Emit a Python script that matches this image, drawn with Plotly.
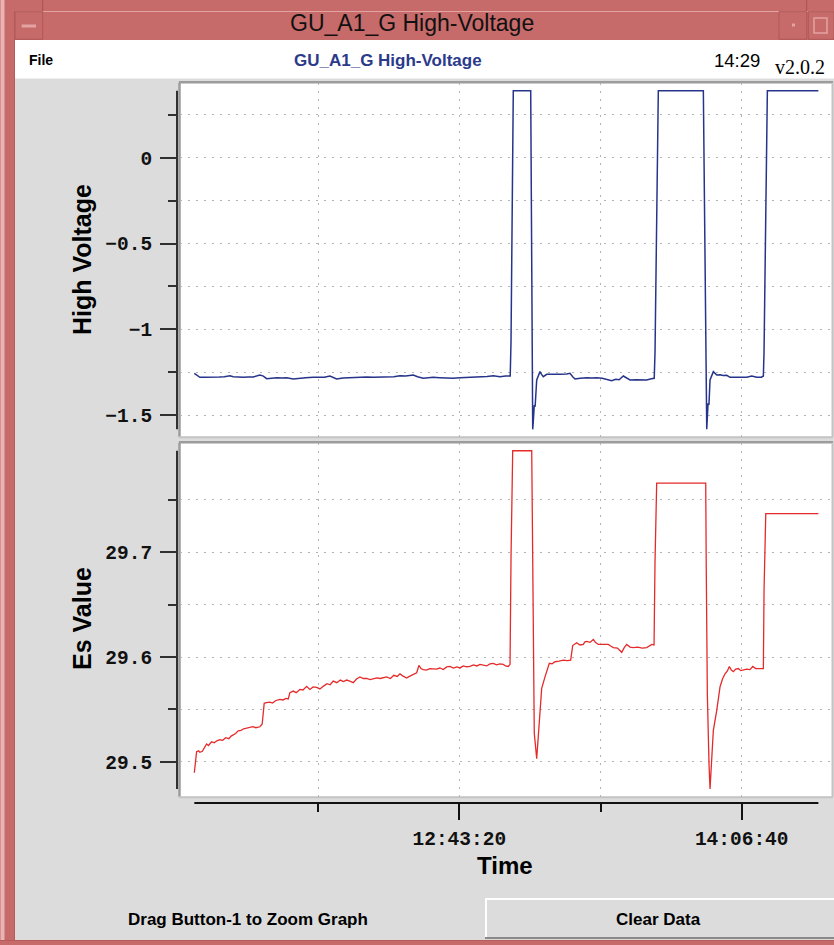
import pandas as pd
import plotly.graph_objects as go

# ---------------- data ----------------
BASE = "2000-01-01 11:25:00"   # minutes below are counted from this clock time

hv_minutes = [0.13, 0.6, 1.2, 1.77, 3.0, 4.5, 6.0, 7.5, 9.0, 10.63, 11.6, 13.0, 14.55, 16.0,
              17.5, 19.48, 20.5, 21.46, 23.0, 24.5, 26.0, 27.37, 29.31, 31.0, 33.0, 35.22,
              37.0, 38.5, 40.15, 41.2, 42.13, 44.0, 45.5, 47.03, 49.0, 50.98, 53.0, 55.0,
              57.0, 59.0, 60.81, 62.5, 64.74, 66.0, 67.69, 69.0, 70.64, 72.5, 74.5, 76.55,
              78.5, 80.5, 82.5, 84.5, 86.5, 88.35, 90.33, 92.0, 93.35,
              93.59, 93.97, 94.26, 99.40, 99.70, 99.99, 100.16, 100.46, 100.7, 101.17,
              101.64, 102.14, 102.6, 103.11, 104.12, 106.0, 108.04, 110.0, 111.0, 111.79,
              112.47, 114.0, 115.93, 117.5, 118.88, 120.5, 122.0, 123.31, 124.5, 125.5,
              126.73, 127.7, 128.71, 130.5, 132.0, 133.64, 135.0, 135.85,
              136.09, 136.59, 137.06, 150.35, 150.55, 151.06, 151.35, 151.74, 152.0,
              152.32, 153.30, 154.30, 155.28, 156.2, 157.25, 158.23, 160.0, 161.5, 163.16,
              164.64, 166.11, 167.5, 168.06, 168.26, 168.77, 169.24, 184.30]
hv_values = [-1.256, -1.262, -1.272, -1.2792, -1.278, -1.2792, -1.277, -1.2775, -1.2753,
             -1.2695, -1.2753, -1.278, -1.2792, -1.277, -1.2775, -1.2656, -1.272, -1.2869,
             -1.284, -1.2811, -1.283, -1.2811, -1.2889, -1.284, -1.282, -1.2792, -1.281,
             -1.279, -1.2714, -1.279, -1.2889, -1.283, -1.281, -1.2811, -1.279, -1.2772,
             -1.278, -1.2775, -1.277, -1.276, -1.2695, -1.272, -1.2656, -1.276, -1.285,
             -1.282, -1.2792, -1.281, -1.283, -1.285, -1.281, -1.2792, -1.278, -1.2775,
             -1.274, -1.2695, -1.2753, -1.272, -1.2714,
             -1.0675, -0.2366, 0.3904, 0.3904, -0.6055, -1.582, -1.537, -1.440, -1.45,
             -1.2947, -1.2656, -1.246, -1.262, -1.2753, -1.2617, -1.263, -1.2617, -1.260,
             -1.2559, -1.2753, -1.2889, -1.284, -1.281, -1.283, -1.281, -1.284, -1.290,
             -1.2986, -1.290, -1.293, -1.2714, -1.285, -1.2947, -1.293, -1.295, -1.2947,
             -1.288, -1.285,
             -1.1297, -0.3046, 0.3904, 0.3904, -0.0231, -1.0132, -1.582, -1.4305, -1.44,
             -1.2947, -1.246, -1.2656, -1.2636, -1.268, -1.2675, -1.2792, -1.28, -1.2792,
             -1.2792, -1.2714, -1.2792, -1.278, -1.2714, -1.1297, -0.3046, 0.3904, 0.3904]

es_minutes = [0.13, 0.45, 0.80, 1.4, 1.77, 2.5, 3.2, 3.75, 4.3, 5.23, 6.0, 6.8, 7.68, 8.5,
              9.4, 10.3, 11.0, 11.6, 12.3, 13.08, 13.9, 14.7, 15.56, 16.5, 17.4, 18.3,
              19.48, 20.16, 20.5, 20.75, 21.4, 22.44, 23.2, 24.2, 25.39, 26.3, 27.2, 27.84,
              28.34, 29.3, 30.2, 31.29, 32.2, 33.27, 34.2, 35.2, 36.22, 37.2, 38.17, 39.3,
              40.2, 41.12, 42.2, 43.2, 44.1, 45.08, 46.0, 47.03, 48.0, 49.0, 50.0, 51.0,
              52.0, 52.93, 54.0, 55.0, 56.0, 56.89, 58.0, 59.0, 60.0, 60.81, 61.6, 62.79,
              63.6, 64.6, 65.74, 66.42, 67.0, 67.69, 68.6, 69.6, 70.64, 71.6, 72.6, 73.6,
              74.6, 75.57, 76.6, 77.6, 78.52, 79.5, 80.5, 81.5, 82.5, 83.5, 84.43, 85.4,
              86.4, 87.4, 88.35, 89.3, 90.3, 91.31, 92.0, 92.78, 93.3,
              93.59, 94.09, 99.70, 99.85, 100.17, 100.46, 101.17,
              101.64, 102.14, 102.64, 103.62, 104.3, 104.89, 105.7, 106.57, 107.8, 109.02,
              110.2, 111.2, 111.79, 112.4, 112.97, 113.9, 114.92, 115.4, 115.93, 116.9,
              117.87, 118.5, 119.35, 120.8, 122.3, 123.0, 123.78, 125.0, 126.26, 127.0,
              127.73, 128.7, 129.68, 131.0, 132.3, 133.64, 134.4, 135.12, 135.8,
              136.08, 136.58, 151.05, 151.2, 151.53, 152.03, 152.32,
              152.83, 153.30, 154.30, 155.28, 156.0, 156.75, 157.4, 158.02, 158.6, 159.2,
              159.9, 160.68, 161.4, 162.15, 163.1, 164.13, 164.93, 165.8, 167.0, 168.06,
              168.26, 168.77, 184.30]
es_values = [29.4895, 29.500, 29.5096, 29.5105, 29.509, 29.510, 29.514, 29.517, 29.5155,
             29.519, 29.518, 29.520, 29.521, 29.5205, 29.523, 29.522, 29.5245, 29.5255,
             29.527, 29.5296, 29.530, 29.5315, 29.532, 29.5325, 29.5335, 29.5325, 29.5334,
             29.536, 29.548, 29.5558, 29.5565, 29.557, 29.556, 29.5585, 29.5596, 29.559,
             29.5605, 29.560, 29.566, 29.5675, 29.566, 29.569, 29.5685, 29.572, 29.569,
             29.5715, 29.571, 29.5695, 29.572, 29.5745, 29.5735, 29.577, 29.5755, 29.578,
             29.5765, 29.578, 29.577, 29.5755, 29.579, 29.581, 29.5795, 29.5795, 29.5785,
             29.579, 29.580, 29.5795, 29.5805, 29.581, 29.5795, 29.5825, 29.5815, 29.584,
             29.582, 29.580, 29.5815, 29.583, 29.585, 29.592, 29.589, 29.588, 29.5875,
             29.589, 29.589, 29.5885, 29.5895, 29.588, 29.5905, 29.591, 29.5895, 29.5905,
             29.5896, 29.5915, 29.5907, 29.591, 29.5925, 29.5915, 29.5929, 29.5925,
             29.5915, 29.5935, 29.594, 29.5925, 29.5935, 29.593, 29.5915, 29.591, 29.593,
             29.695, 29.797, 29.797, 29.7245, 29.599, 29.527, 29.503,
             29.524, 29.5525, 29.570, 29.581, 29.588, 29.594, 29.5935, 29.5955, 29.596,
             29.597, 29.5965, 29.597, 29.611, 29.612, 29.6136, 29.6115, 29.612, 29.6145,
             29.615, 29.614, 29.6167, 29.614, 29.612, 29.612, 29.612, 29.6105, 29.609,
             29.6085, 29.6045, 29.609, 29.612, 29.6095, 29.609, 29.6095, 29.6085, 29.609,
             29.6105, 29.612, 29.6115,
             29.690, 29.766, 29.766, 29.688, 29.564, 29.497, 29.474,
             29.503, 29.530, 29.549, 29.5716, 29.579, 29.584, 29.5865, 29.591, 29.5875,
             29.586, 29.5885, 29.589, 29.587, 29.5876, 29.5885, 29.588, 29.591, 29.589,
             29.589, 29.589, 29.6635, 29.737, 29.737]

x_major_ticks = ["12:43:20", "14:06:40"]
x_minor_ticks = ["12:01:40", "13:25:00"]
hv_major_ticks = [-1.5, -1.0, -0.5, 0.0]
hv_minor_ticks = [-1.25, -0.75, -0.25, 0.25]
es_major_ticks = [29.5, 29.6, 29.7]
es_minor_ticks = [29.55, 29.65, 29.75]

# ---------------- helpers ----------------
W, H = 834, 945
DAY = "2000-01-01 "
base = pd.Timestamp(BASE)
hv_t = base + pd.to_timedelta(hv_minutes, unit="min")
es_t = base + pd.to_timedelta(es_minutes, unit="min")


def px(x):
    return x / W


def py(y):
    return 1 - y / H


GRAY_BG = "#dcdcdc"
RED = "#c76a6a"
RED_LIGHT = "#e3a3a3"
GRID = "#b4b4b4"
AXC = "#303030"
TICKFONT = dict(family="Liberation Mono", size=19.5, color="#111111", weight="bold")

shapes = []


def rect(x0, y0, x1, y1, fill, line=None, lw=0):
    shapes.append(dict(type="rect", xref="paper", yref="paper", layer="below",
                       x0=px(x0), x1=px(x1), y0=py(y1), y1=py(y0), fillcolor=fill,
                       line=dict(color=line or fill, width=lw)))


def hline(x0, x1, y, color, lw=1):
    shapes.append(dict(type="line", xref="paper", yref="paper", layer="below",
                       x0=px(x0), x1=px(x1), y0=py(y), y1=py(y), line=dict(color=color, width=lw)))


def vline(x, y0, y1, color, lw=1):
    shapes.append(dict(type="line", xref="paper", yref="paper", layer="below",
                       x0=px(x), x1=px(x), y0=py(y0), y1=py(y1), line=dict(color=color, width=lw)))


# window chrome
rect(0, 0, 834, 40, RED)
hline(15, 834, 11.5, RED_LIGHT, 1)
vline(42.7, 0, 11.5, "#a85050", 1)
vline(806.7, 0, 11.5, "#a85050", 1)
rect(0, 0, 15, 945, RED)
vline(2.5, 0, 945, "#eab4b4", 4)
vline(14.5, 11.5, 945, "#b65a5a", 1)
rect(0, 940, 834, 945, RED)
hline(0, 834, 940.5, "#b65a5a", 1)
# title-bar buttons
rect(15, 11.7, 42.7, 39.3, RED, "#b05858", 1)
hline(21.7, 36, 26, RED_LIGHT, 3)
rect(779, 11.7, 806.7, 39.3, RED, "#b05858", 1)
rect(792, 23.5, 795, 26.5, RED_LIGHT)
rect(808.3, 11.7, 834, 39.3, RED, "#b05858", 1)
rect(814, 18, 827, 33, RED, RED_LIGHT, 1.5)
# header row
rect(15, 40, 834, 78.5, "white")
# plot panels (bevelled frame)
for top, bot in ((82.7, 436.7), (442.7, 796.7)):
    rect(180, top, 832, bot, "white")
    hline(179, 833, top - 0.5, "#9c9c9c", 2.5)
    vline(179.5, top, bot, "#9c9c9c", 2.5)
    hline(179, 833, bot + 0.5, "#c4c4c4", 2)
    vline(832.5, top, bot, "#c4c4c4", 2)
# Clear Data button
rect(485, 898, 834, 938.5, GRAY_BG)
hline(485, 834, 899, "white", 2)
vline(486, 898, 938.5, "white", 2)
hline(485, 834, 938, "#8a8a8a", 2)

# axis lines spanning the data extent (as the reference draws them)
shapes.append(dict(type="line", xref="paper", yref="y", layer="above",
                   x0=px(177), x1=px(177), y0=min(hv_values), y1=max(hv_values),
                   line=dict(color=AXC, width=2)))
shapes.append(dict(type="line", xref="paper", yref="y2", layer="above",
                   x0=px(177), x1=px(177), y0=min(es_values), y1=max(es_values),
                   line=dict(color=AXC, width=2)))
shapes.append(dict(type="line", xref="x2", yref="paper", layer="above",
                   x0=min(min(hv_t), min(es_t)), x1=max(max(hv_t), max(es_t)),
                   y0=py(803), y1=py(803), line=dict(color="#111111", width=2)))

fig = go.Figure()
fig.add_trace(go.Scatter(x=hv_t, y=hv_values, mode="lines", xaxis="x", yaxis="y",
                         line=dict(color="#27348b", width=1.5), hoverinfo="skip"))
fig.add_trace(go.Scatter(x=es_t, y=es_values, mode="lines", xaxis="x2", yaxis="y2",
                         line=dict(color="#e52a2a", width=1.3), hoverinfo="skip"))

x_range = [DAY + "11:20:54", DAY + "14:33:19"]
xmaj = [DAY + t for t in x_major_ticks]
xmin = [DAY + t for t in x_minor_ticks]
grid_common = dict(showgrid=True, gridcolor=GRID, gridwidth=1, griddash="2px,6px",
                   zeroline=False, showline=False, fixedrange=True)

fig.update_layout(
    width=W, height=H, margin=dict(l=0, r=0, t=0, b=0),
    paper_bgcolor=GRAY_BG, plot_bgcolor="rgba(0,0,0,0)", showlegend=False,
    shapes=shapes,
    xaxis=dict(domain=[px(180), px(832)], anchor="y", type="date", range=x_range,
               tickmode="array", tickvals=xmaj, showticklabels=False, ticks="",
               minor=dict(tickvals=xmin, showgrid=True, gridcolor=GRID, griddash="2px,6px", ticks=""),
               **grid_common),
    xaxis2=dict(domain=[px(180), px(832)], anchor="free", position=py(803), type="date",
                range=x_range, tickmode="array", tickvals=xmaj, tickformat="%H:%M:%S",
                ticks="outside", ticklen=16, tickwidth=2, tickcolor="#111111",
                tickfont=TICKFONT, ticklabelstandoff=2,
                minor=dict(tickvals=xmin, showgrid=True, gridcolor=GRID, griddash="2px,6px",
                           ticks="outside", ticklen=8, tickwidth=2, tickcolor="#111111"),
                **grid_common),
    yaxis=dict(domain=[py(436.7), py(82.7)], anchor="free", position=px(177),
               range=[-1.6249, 0.4368], tickmode="array", tickvals=hv_major_ticks,
               ticks="outside", ticklen=17, tickwidth=2, tickcolor=AXC,
               tickfont=TICKFONT, ticklabelstandoff=4,
               minor=dict(tickvals=hv_minor_ticks, showgrid=True, gridcolor=GRID, griddash="2px,6px",
                          ticks="outside", ticklen=9, tickwidth=2, tickcolor=AXC),
               **grid_common),
    yaxis2=dict(domain=[py(796.7), py(442.7)], anchor="free", position=px(177),
                range=[29.4666, 29.8047], tickmode="array", tickvals=es_major_ticks,
                ticks="outside", ticklen=17, tickwidth=2, tickcolor=AXC,
                tickfont=TICKFONT, ticklabelstandoff=4,
                minor=dict(tickvals=es_minor_ticks, showgrid=True, gridcolor=GRID, griddash="2px,6px",
                           ticks="outside", ticklen=9, tickwidth=2, tickcolor=AXC),
                **grid_common),
)


def ann(text, x, y, size, family="Liberation Sans", color="#000000", xanchor="center",
        angle=0):
    fig.add_annotation(text=text, x=px(x), y=py(y), xref="paper", yref="paper",
                       xanchor=xanchor, yanchor="middle", showarrow=False, textangle=angle,
                       font=dict(family=family, size=size, color=color))


ann("GU_A1_G High-Voltage", 412, 23, 23, color="#111111")
ann("<b>File</b>", 27, 60, 14, xanchor="left")
ann("<b>GU_A1_G High-Voltage</b>", 388, 60, 17, color="#2b3a8a")
ann("14:29", 737, 60, 18.5)
ann("v2.0.2", 800, 67, 20, family="Liberation Serif")
ann("<b>High Voltage</b>", 82, 260, 25, angle=-90)
ann("<b>Es Value</b>", 82, 619, 25, angle=-90)
ann("<b>Time</b>", 505, 865, 24)
ann("<b>Drag Button-1 to Zoom Graph</b>", 248, 919, 17)
ann("<b>Clear Data</b>", 658, 919, 17)

fig.write_html("out.html", config={"displayModeBar": False},
               post_script="document.body.style.margin='0px';"
                           "document.body.style.overflow='hidden';")
